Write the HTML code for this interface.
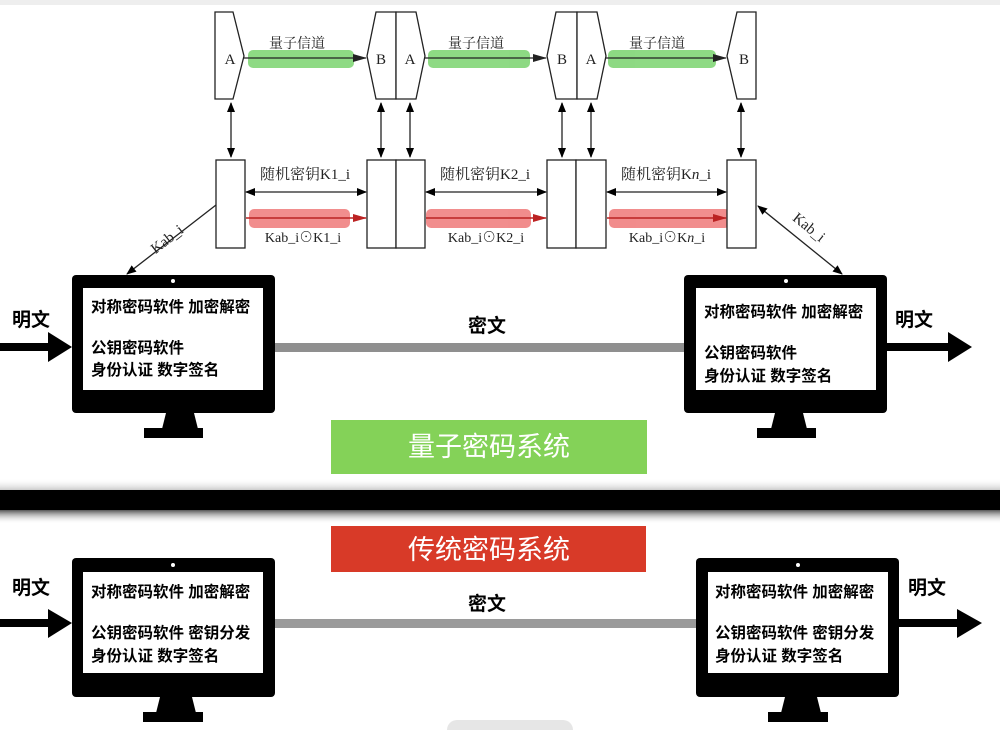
<!DOCTYPE html>
<html><head><meta charset="utf-8"><style>
html,body{margin:0;padding:0;background:#fff;}
svg{display:block;}
.s{font-family:"Liberation Serif","Noto Serif CJK SC",serif;font-size:15px;fill:#222;}
.b{font-family:"Liberation Sans","Noto Sans CJK SC",sans-serif;font-weight:bold;fill:#000;}
</style></head><body>
<svg width="1000" height="730" viewBox="0 0 1000 730" xmlns="http://www.w3.org/2000/svg">
<defs>
<marker id="ah" markerWidth="10" markerHeight="8" refX="9" refY="4" orient="auto-start-reverse" markerUnits="userSpaceOnUse"><path d="M0,0 L10,4 L0,8 Z" fill="#000"/></marker>
<marker id="ahr" markerWidth="14" markerHeight="8" refX="13" refY="4" orient="auto" markerUnits="userSpaceOnUse"><path d="M0,0 L14,4 L0,8 Z" fill="#b22"/></marker>
<marker id="ahg" markerWidth="14" markerHeight="8" refX="13" refY="4" orient="auto" markerUnits="userSpaceOnUse"><path d="M0,0 L14,4 L0,8 Z" fill="#222"/></marker>
<linearGradient id="sh" x1="0" y1="0" x2="0" y2="1"><stop offset="0" stop-color="#555"/><stop offset="1" stop-color="#fff" stop-opacity="0"/></linearGradient>
<linearGradient id="sh2" x1="0" y1="1" x2="0" y2="0"><stop offset="0" stop-color="#ccc"/><stop offset="1" stop-color="#fff" stop-opacity="0"/></linearGradient>
</defs>
<rect x="0" y="0" width="1000" height="5" fill="#eee"/>
<g fill="#7ad36e" opacity="0.85">
<rect x="248" y="50" width="106" height="18" rx="5"/>
<rect x="428" y="50" width="102" height="18" rx="5"/>
<rect x="608" y="50" width="108" height="18" rx="5"/>
</g>
<g fill="#ee7070" opacity="0.8">
<rect x="249" y="209" width="101" height="19" rx="5"/>
<rect x="426" y="209" width="105" height="19" rx="5"/>
<rect x="609" y="209" width="121" height="19" rx="5"/>
</g>
<g stroke="#222" stroke-width="1.3" fill="#fff">
<path d="M215,12 L233,12 L244,56 L233,99 L215,99 Z"/>
<path d="M376,12 L396,12 L396,99 L376,99 L367,56 Z"/>
<path d="M396,12 L416,12 L425,56 L416,99 L396,99 Z"/>
<path d="M556,12 L577,12 L577,99 L556,99 L547,56 Z"/>
<path d="M577,12 L597,12 L606,56 L597,99 L577,99 Z"/>
<path d="M737,12 L756,12 L756,99 L737,99 L727,56 Z"/>
<rect x="216" y="160" width="29" height="88"/>
<rect x="367" y="160" width="29" height="88"/>
<rect x="396" y="160" width="29" height="88"/>
<rect x="547" y="160" width="29" height="88"/>
<rect x="576" y="160" width="30" height="88"/>
<rect x="727" y="160" width="29" height="88"/>
</g>
<g class="s" text-anchor="middle">
<text x="230" y="64">A</text><text x="381" y="64">B</text><text x="410" y="64">A</text>
<text x="562" y="64">B</text><text x="591" y="64">A</text><text x="744" y="64">B</text>
<text x="297" y="48" font-size="14">量子信道</text>
<text x="476" y="48" font-size="14">量子信道</text>
<text x="657" y="48" font-size="14">量子信道</text>
<text x="305" y="179">随机密钥K1_i</text>
<text x="485" y="179">随机密钥K2_i</text>
<text x="666" y="179">随机密钥K<tspan font-style="italic">n</tspan>_i</text>
<text x="303" y="242" font-size="14">Kab_i⊙K1_i</text>
<text x="486" y="242" font-size="14">Kab_i⊙K2_i</text>
<text x="667" y="242" font-size="14">Kab_i⊙K<tspan font-style="italic">n</tspan>_i</text>
</g>
<g stroke="#222" stroke-width="1.3" fill="none">
<line x1="244" y1="58" x2="366" y2="58" marker-end="url(#ahg)"/>
<line x1="425" y1="58" x2="546" y2="58" marker-end="url(#ahg)"/>
<line x1="606" y1="58" x2="726" y2="58" marker-end="url(#ahg)"/>
<line x1="231" y1="103" x2="231" y2="157" marker-start="url(#ah)" marker-end="url(#ah)"/>
<line x1="381" y1="103" x2="381" y2="157" marker-start="url(#ah)" marker-end="url(#ah)"/>
<line x1="410" y1="103" x2="410" y2="157" marker-start="url(#ah)" marker-end="url(#ah)"/>
<line x1="562" y1="103" x2="562" y2="157" marker-start="url(#ah)" marker-end="url(#ah)"/>
<line x1="591" y1="103" x2="591" y2="157" marker-start="url(#ah)" marker-end="url(#ah)"/>
<line x1="741" y1="103" x2="741" y2="157" marker-start="url(#ah)" marker-end="url(#ah)"/>
<line x1="246" y1="192" x2="366" y2="192" marker-start="url(#ah)" marker-end="url(#ah)"/>
<line x1="426" y1="192" x2="546" y2="192" marker-start="url(#ah)" marker-end="url(#ah)"/>
<line x1="607" y1="192" x2="726" y2="192" marker-start="url(#ah)" marker-end="url(#ah)"/>
<line x1="216" y1="205" x2="127" y2="274" marker-end="url(#ah)"/>
<line x1="758" y1="206" x2="842" y2="274" marker-start="url(#ah)" marker-end="url(#ah)"/>
</g>
<g stroke="#b22" stroke-width="1.5">
<line x1="246" y1="218" x2="366" y2="218" marker-end="url(#ahr)"/>
<line x1="426" y1="218" x2="546" y2="218" marker-end="url(#ahr)"/>
<line x1="607" y1="218" x2="726" y2="218" marker-end="url(#ahr)"/>
</g>
<text class="s" font-size="14" transform="translate(170,243) rotate(-38)" text-anchor="middle">Kab_i</text>
<text class="s" font-size="14" transform="translate(806,231) rotate(39)" text-anchor="middle">Kab_i</text>
<g fill="#000">
<rect x="72" y="275" width="203" height="138" rx="4"/>
<path d="M166,413 L194,413 L198,429 L162,429 Z"/><rect x="144" y="428" width="59" height="10"/>
<rect x="684" y="275" width="203" height="138" rx="4"/>
<path d="M775,413 L803,413 L807,429 L771,429 Z"/><rect x="757" y="428" width="59" height="10"/>
<rect x="72" y="558" width="203" height="139" rx="4"/>
<path d="M160,697 L192,697 L196,713 L156,713 Z"/><rect x="143" y="712" width="60" height="10"/>
<rect x="696" y="558" width="203" height="139" rx="4"/>
<path d="M785,697 L817,697 L821,713 L781,713 Z"/><rect x="768" y="712" width="60" height="10"/>
</g>
<g fill="#fff">
<rect x="83" y="288" width="180" height="102"/><circle cx="173" cy="281" r="2"/>
<rect x="696" y="288" width="180" height="102"/><circle cx="786" cy="281" r="2"/>
<rect x="83" y="572" width="180" height="101"/><circle cx="173" cy="565" r="2"/>
<rect x="708" y="572" width="180" height="101"/><circle cx="798" cy="565" r="2"/>
</g>
<g class="b" font-size="15.5">
<text x="91" y="312">对称密码软件 加密解密</text>
<text x="91" y="353">公钥密码软件</text>
<text x="91" y="375">身份认证 数字签名</text>
<text x="704" y="317">对称密码软件 加密解密</text>
<text x="704" y="358">公钥密码软件</text>
<text x="704" y="381">身份认证 数字签名</text>
<text x="91" y="597">对称密码软件 加密解密</text>
<text x="91" y="638">公钥密码软件 密钥分发</text>
<text x="91" y="661">身份认证 数字签名</text>
<text x="715" y="597">对称密码软件 加密解密</text>
<text x="715" y="638">公钥密码软件 密钥分发</text>
<text x="715" y="661">身份认证 数字签名</text>
</g>
<g fill="#000">
<rect x="0" y="343" width="52" height="8"/><path d="M48,332 L72,347 L48,362 Z"/>
<rect x="887" y="343" width="65" height="8"/><path d="M948,332 L972,347 L948,362 Z"/>
<rect x="0" y="619" width="52" height="8"/><path d="M48,609 L72,623 L48,638 Z"/>
<rect x="899" y="619" width="62" height="8"/><path d="M957,609 L982,623 L957,638 Z"/>
</g>
<rect x="275" y="343" width="409" height="9" fill="#8f8f8f"/>
<rect x="275" y="619" width="421" height="9" fill="#9a9a9a"/>
<g class="b" font-size="19">
<text x="12" y="326">明文</text><text x="895" y="326">明文</text>
<text x="468" y="332">密文</text>
<text x="12" y="594">明文</text><text x="908" y="594">明文</text>
<text x="468" y="610">密文</text>
</g>
<rect x="331" y="420" width="316" height="54" fill="#84d258"/>
<text x="489" y="456" text-anchor="middle" font-family="'Noto Sans CJK SC',sans-serif" font-size="27" fill="#fff">量子密码系统</text>
<rect x="0" y="478" width="1000" height="12" fill="url(#sh2)"/>
<rect x="0" y="490" width="1000" height="20" fill="#000"/>
<rect x="0" y="510" width="1000" height="14" fill="url(#sh)"/>
<rect x="331" y="526" width="315" height="46" fill="#d83a28"/>
<text x="489" y="559" text-anchor="middle" font-family="'Noto Sans CJK SC',sans-serif" font-size="27" fill="#fff">传统密码系统</text>
<rect x="447" y="720" width="126" height="20" rx="10" fill="#e6e6e6"/>
</svg>
</body></html>
